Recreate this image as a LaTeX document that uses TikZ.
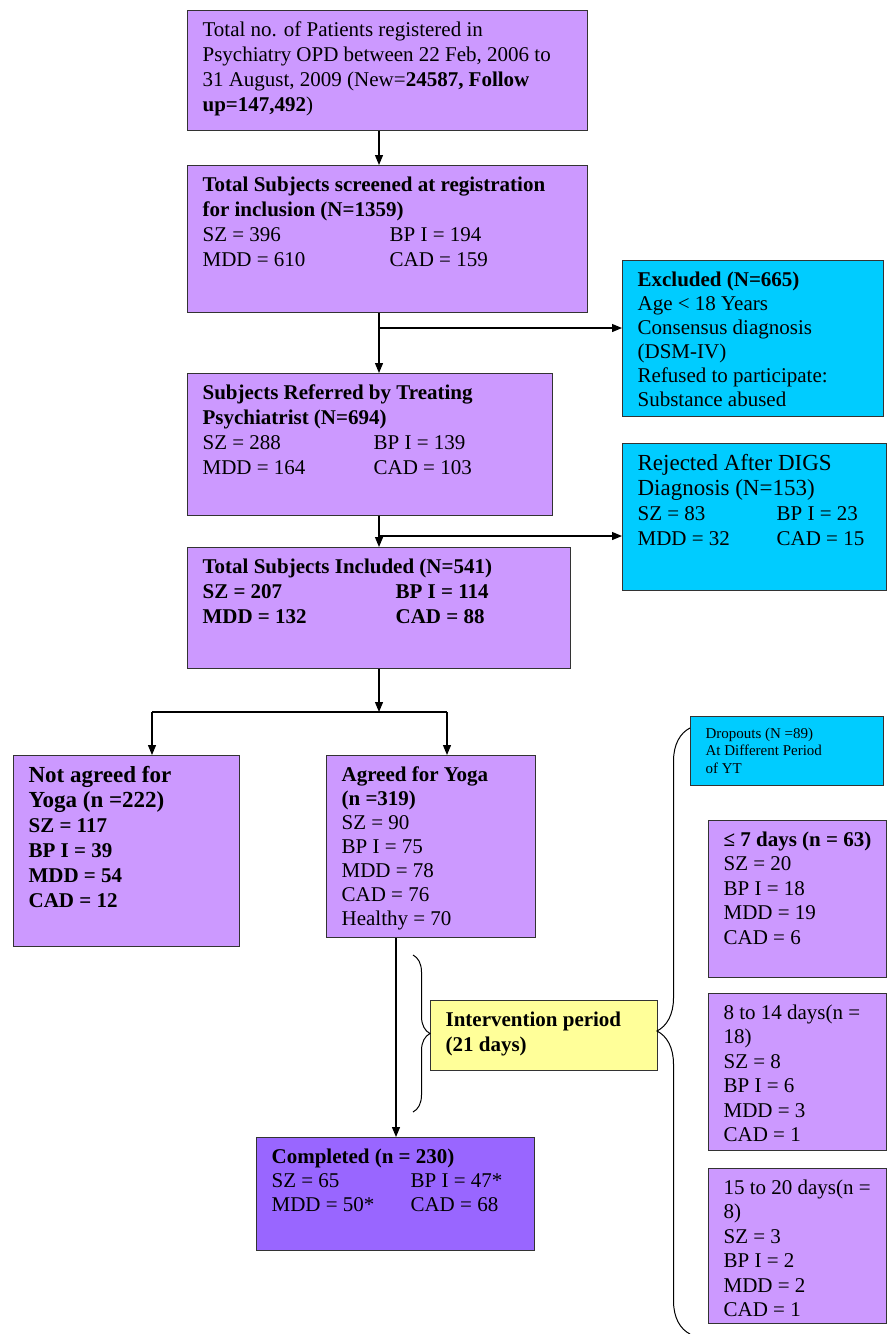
\documentclass[tikz,border=0pt]{standalone}
\usepackage{fontspec}
\setmainfont{Liberation Serif}
\usetikzlibrary{arrows.meta,decorations.pathreplacing}
\definecolor{lilac}{HTML}{CC99FF}
\definecolor{skyblue}{HTML}{00CCFF}
\definecolor{paleyellow}{HTML}{FFFF99}
\definecolor{deeplilac}{HTML}{9966FF}
\newcommand{\boxtxt}[3]{\parbox[t][#2pt][t]{#1pt}{\raggedright\leftskip=15pt\relax\vspace*{11pt}#3}}
\newcommand{\pair}[3]{\makebox[#1pt][l]{#2}#3}
\begin{document}
\begin{tikzpicture}[x=1pt, y=-1pt, line width=1.2pt,
  box/.style={draw=black!80, anchor=north west, inner sep=0pt, font=\fontsize{21}{25}\selectfont},
  arr/.style={-{Triangle[length=10pt,width=8pt]}},
  brc/.style={decorate, decoration={brace, amplitude=#1}, line width=1pt}]
  \useasboundingbox (0,0) rectangle (887,1334);
  % main column
  \node[box, fill=lilac] (reg) at (187,10) {\boxtxt{400}{120}{Total no. of Patients registered in\\
    Psychiatry OPD between 22 Feb, 2006 to\\
    31 August, 2009 (New=\textbf{24587, Follow}\\
    \textbf{up=147,492})}};
  \node[box, fill=lilac] (screen) at (187,165) {\boxtxt{400}{147}{\textbf{Total Subjects screened at registration}\\
    \textbf{for inclusion (N=1359)}\\
    \pair{187}{SZ = 396}{BP I = 194}\\
    \pair{187}{MDD = 610}{CAD = 159}}};
  \node[box, fill=lilac] (refd) at (187,373) {\boxtxt{365}{142}{\textbf{Subjects Referred by Treating}\\
    \textbf{Psychiatrist (N=694)}\\
    \pair{171}{SZ = 288}{BP I = 139}\\
    \pair{171}{MDD = 164}{CAD = 103}}};
  \node[box, fill=lilac] (incl) at (187,547) {\boxtxt{383}{121}{\bfseries Total Subjects Included (N=541)\\
    \pair{193}{SZ = 207}{BP I = 114}\\
    \pair{193}{MDD = 132}{CAD = 88}}};
  % excluded and rejected
  \node[box, fill=skyblue] (excl) at (622,260) {\boxtxt{261}{156}{\fontsize{21}{24}\selectfont
    \textbf{Excluded (N=665)}\\
    Age < 18 Years\\
    Consensus diagnosis\\
    (DSM-IV)\\
    Refused to participate:\\
    Substance abused}};
  \node[box, fill=skyblue] (rej) at (622,443) {\boxtxt{264}{147}{{\fontsize{23}{25}\selectfont Rejected After DIGS\\
    Diagnosis (N=153)}\\
    \pair{139}{SZ = 83}{BP I = 23}\\
    \pair{139}{MDD = 32}{CAD = 15}}};
  % yoga split
  \node[box, fill=lilac] (noyoga) at (13,755) {\boxtxt{226}{191}{\bfseries{\fontsize{23}{25}\selectfont Not agreed for\\
    Yoga (n =222)}\\
    SZ = 117\\
    BP I = 39\\
    MDD = 54\\
    CAD = 12}};
  \node[box, fill=lilac] (yoga) at (326,755) {\boxtxt{209}{182}{\fontsize{21}{24}\selectfont
    \textbf{Agreed for Yoga}\\
    \textbf{(n =319)}\\
    SZ = 90\\
    BP I = 75\\
    MDD = 78\\
    CAD = 76\\
    Healthy = 70}};
  \node[box, fill=deeplilac] (done) at (256,1137) {\boxtxt{278}{113}{\fontsize{21}{24}\selectfont
    \textbf{Completed (n = 230)}\\
    \pair{139}{SZ = 65}{BP I = 47*}\\
    \pair{139}{MDD = 50*}{CAD = 68}}};
  \node[box, fill=paleyellow] (interv) at (430,1000) {\boxtxt{227}{70}{\bfseries Intervention period\\
    (21 days)}};
  % dropouts
  \node[box, fill=skyblue] (drop) at (690,716) {\boxtxt{193}{69}{\fontsize{15}{17.5}\selectfont
    Dropouts (N =89)\\
    At Different Period\\
    of YT}};
  \node[box, fill=lilac] (d7) at (708,820) {\boxtxt{178}{157}{\fontsize{21}{24.5}\selectfont
    \textbf{≤ 7 days (n = 63)}\\
    SZ = 20\\
    BP I = 18\\
    MDD = 19\\
    CAD = 6}};
  \node[box, fill=lilac] (d14) at (708,993) {\boxtxt{178}{157}{\fontsize{21}{24.5}\selectfont
    8 to 14 days(n =\\
    18)\\
    SZ = 8\\
    BP I = 6\\
    MDD = 3\\
    CAD = 1}};
  \node[box, fill=lilac] (d20) at (708,1168) {\boxtxt{178}{155}{\fontsize{21}{24.5}\selectfont
    15 to 20 days(n =\\
    8)\\
    SZ = 3\\
    BP I = 2\\
    MDD = 2\\
    CAD = 1}};
  % connectors
  \coordinate (spine) at (379,0);
  \coordinate (b1) at (379,328);
  \coordinate (b2) at (379,536);
  \coordinate (fork) at (379,712);
  \coordinate (lft) at (152,712);
  \coordinate (rgt) at (447,712);
  \coordinate (drop line) at (396,0);
  \draw[arr] (reg.south -| spine) -- (screen.north -| spine);
  \draw[arr] (screen.south -| spine) -- (refd.north -| spine);
  \draw[arr] (b1) -- (b1 -| excl.west);
  \draw[arr] (refd.south -| spine) -- (incl.north -| spine);
  \draw[arr] (b2) -- (b2 -| rej.west);
  \draw[arr] (incl.south -| spine) -- (fork);
  \draw (lft) -- (rgt);
  \draw[arr] (lft) -- (lft |- noyoga.north);
  \draw[arr] (rgt) -- (rgt |- yoga.north);
  \draw[arr] (yoga.south -| drop line) -- (done.north -| drop line);
  % braces
  \coordinate (lb1) at (413,955);
  \coordinate (lb2) at (413,1112);
  \coordinate (rb1) at (690,1334);
  \coordinate (rb2) at (690,728);
  \draw[brc=17pt] (lb1) -- (lb2);
  \draw[brc=33pt] (rb1) -- (rb2);
\end{tikzpicture}
\end{document}
